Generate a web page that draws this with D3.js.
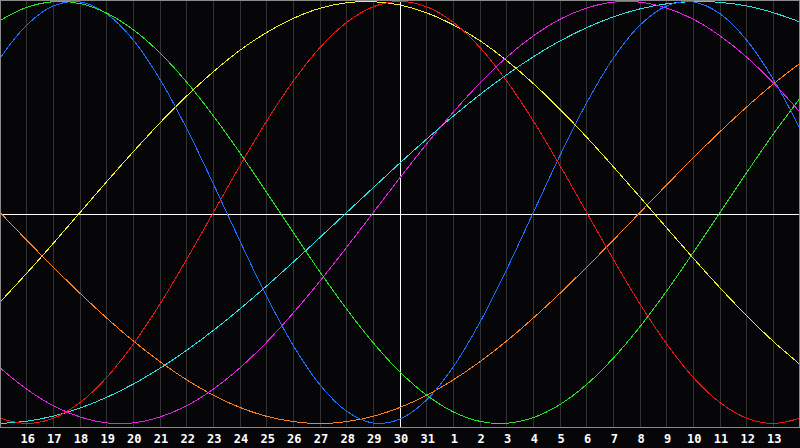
<!DOCTYPE html>
<html>
<head>
<meta charset="utf-8">
<script src="https://cdn.jsdelivr.net/npm/d3@7"></script>
<style>
  html, body { margin: 0; padding: 0; background: #060608; }
  svg { display: block; }
</style>
</head>
<body>
<svg id="chart" width="800" height="448"></svg>
<script>
// Day labels for grid positions 1..29 (position 15 = today, 30)
const dayLabels = ["16","17","18","19","20","21","22","23","24","25","26","27","28","29","30","31",
                   "1","2","3","4","5","6","7","8","9","10","11","12","13"];
const todayIndex = 15;

// Series values per day (day index 0..30), range -1..1
const blue23 = [0.731,0.888,0.979,0.998,0.942,0.817,0.631,0.398,0.136,-0.136,-0.398,-0.631,-0.817,-0.942,-0.998,-0.979,
  -0.888,-0.731,-0.520,-0.270,0,0.270,0.520,0.731,0.888,0.979,0.998,0.942,0.817,0.631,0.398];
const red28 = [-0.975,-1,-0.975,-0.901,-0.782,-0.623,-0.434,-0.222,0,0.222,0.434,0.623,0.782,0.901,0.975,1,
  0.975,0.901,0.782,0.623,0.434,0.222,0,-0.222,-0.434,-0.623,-0.782,-0.901,-0.975,-1,-0.975];
const green33 = [0.910,0.972,0.999,0.990,0.945,0.866,0.756,0.618,0.458,0.282,0.095,-0.095,-0.282,-0.458,-0.618,-0.756,
  -0.866,-0.945,-0.990,-0.999,-0.972,-0.910,-0.815,-0.690,-0.541,-0.372,-0.189,0,0.189,0.372,0.541];
const magenta38 = [-0.736,-0.837,-0.916,-0.969,-0.997,-0.997,-0.969,-0.916,-0.837,-0.736,-0.614,-0.476,-0.325,-0.165,0,0.165,
  0.325,0.476,0.614,0.736,0.837,0.916,0.969,0.997,0.997,0.969,0.916,0.837,0.736,0.614,0.476];
const yellow43 = [-0.425,-0.288,-0.146,0,0.146,0.288,0.425,0.552,0.667,0.769,0.853,0.920,0.968,0.994,0.999,0.983,
  0.946,0.889,0.814,0.720,0.611,0.489,0.357,0.217,0.073,-0.073,-0.217,-0.357,-0.489,-0.611,-0.720];
const orange48 = [0,-0.131,-0.259,-0.383,-0.5,-0.609,-0.707,-0.793,-0.866,-0.924,-0.966,-0.991,-1,-0.991,-0.966,-0.924,
  -0.866,-0.793,-0.707,-0.609,-0.5,-0.383,-0.259,-0.131,0,0.131,0.259,0.383,0.5,0.609,0.707];
const cyan53 = [-1,-0.989,-0.965,-0.927,-0.876,-0.813,-0.738,-0.653,-0.559,-0.457,-0.348,-0.235,-0.118,0,0.118,0.235,
  0.348,0.457,0.559,0.653,0.738,0.813,0.876,0.927,0.965,0.989,1,0.996,0.979,0.947,0.903];

const series = [
  { values: orange48, color: "#ff7f1a" },
  { values: cyan53, color: "#22e6e6" },
  { values: yellow43, color: "#f2f22a" },
  { values: magenta38, color: "#e424e4" },
  { values: red28, color: "#f01414" },
  { values: blue23, color: "#1e6eff" },
  { values: green33, color: "#22e622" }
];

const W = 800, plotBottom = 427;
const svg = d3.select("#chart");
svg.append("rect").attr("x",0).attr("y",0).attr("width",800).attr("height",448).attr("fill","#060608");

const x = d3.scaleLinear().domain([0, 30]).range([0, W]);
const y = d3.scaleLinear().domain([-1, 1]).range([423.5, 1.5]);

// vertical grid lines
const gridIdx = d3.range(1, 30);
svg.append("g").selectAll("line").data(gridIdx).join("line")
  .attr("x1", d => Math.floor(x(d)) + 0.5).attr("x2", d => Math.floor(x(d)) + 0.5)
  .attr("y1", 0).attr("y2", plotBottom)
  .attr("stroke", "#333336").attr("stroke-width", 1).attr("shape-rendering", "crispEdges");

// today line and zero line
svg.append("line")
  .attr("x1", Math.floor(x(todayIndex)) + 0.5).attr("x2", Math.floor(x(todayIndex)) + 0.5)
  .attr("y1", 0).attr("y2", plotBottom)
  .attr("stroke", "#ffffff").attr("shape-rendering", "crispEdges");
svg.append("line")
  .attr("x1", 0).attr("x2", W).attr("y1", 214.5).attr("y2", 214.5)
  .attr("stroke", "#ffffff").attr("shape-rendering", "crispEdges");

// curves
const gen = d3.line().x((d, i) => x(i)).y(d => y(d)).curve(d3.curveCatmullRom.alpha(0.5));
svg.append("g").selectAll("path").data(series).join("path")
  .attr("d", d => gen(d.values))
  .attr("fill", "none")
  .attr("stroke", d => d.color)
  .attr("stroke-width", 1)
  .attr("shape-rendering", "crispEdges");

// frame
svg.append("rect").attr("x", 0.5).attr("y", 0.5).attr("width", W - 1).attr("height", plotBottom)
  .attr("fill", "none").attr("stroke", "#8a8a8a").attr("shape-rendering", "crispEdges");

// x axis labels
const axis = d3.axisBottom(x).tickValues(gridIdx).tickSize(0).tickPadding(0)
  .tickFormat(d => dayLabels[d - 1]);
const ag = svg.append("g").attr("transform", `translate(0.5,${plotBottom})`).call(axis);
ag.select(".domain").remove();
ag.selectAll("text")
  .attr("y", 16).attr("dy", 0)
  .attr("fill", "#ffffff")
  .style("font-family", "'DejaVu Sans Mono', monospace")
  .style("font-weight", "bold")
  .style("font-size", "12px");
</script>
</body>
</html>
